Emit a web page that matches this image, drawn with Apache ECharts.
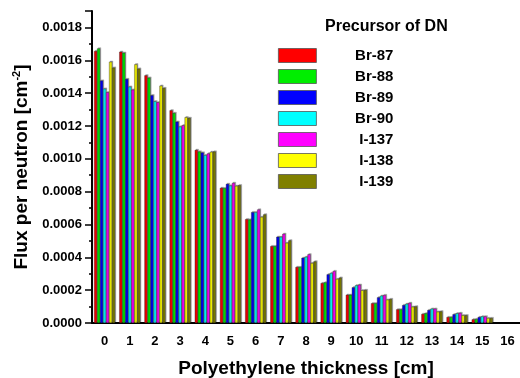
<!DOCTYPE html>
<html>
<head>
<meta charset="utf-8">
<script src="https://cdn.jsdelivr.net/npm/echarts@6/dist/echarts.min.js"></script>
<style>
  html, body { margin: 0; padding: 0; background: #fff; }
  #main { width: 520px; height: 378px; }
</style>
</head>
<body>
<div id="main"></div>
<script>
const thickness = ['0', '1', '2', '3', '4', '5', '6', '7', '8', '9', '10', '11', '12', '13', '14', '15', '16'];

const seriesNames = ['Br-87', 'Br-88', 'Br-89', 'Br-90', 'I-137', 'I-138', 'I-139'];
const colors = ['#ff0000', '#00ee00', '#0000ff', '#00ffff', '#ff00ff', '#ffff00', '#808000'];

// flux per neutron (cm = 0..15)
const br87 = [0.001656, 0.001652, 0.001508, 0.001295, 0.001054, 0.000823, 0.000632, 0.000468, 0.000341, 0.000243, 0.000172, 0.000120, 0.000083, 0.000055, 0.000036, 0.000022];
const br88 = [0.001672, 0.001646, 0.001494, 0.001279, 0.001044, 0.000821, 0.000630, 0.000468, 0.000341, 0.000247, 0.000172, 0.000120, 0.000083, 0.000059, 0.000036, 0.000024];
const br89 = [0.001476, 0.001486, 0.001387, 0.001226, 0.001038, 0.000847, 0.000675, 0.000525, 0.000397, 0.000296, 0.000217, 0.000156, 0.000109, 0.000079, 0.000053, 0.000036];
const br90 = [0.001427, 0.001439, 0.001350, 0.001196, 0.001022, 0.000837, 0.000675, 0.000525, 0.000403, 0.000304, 0.000229, 0.000166, 0.000117, 0.000087, 0.000059, 0.000040];
const i137 = [0.001405, 0.001421, 0.001344, 0.001204, 0.001032, 0.000853, 0.000691, 0.000543, 0.000418, 0.000316, 0.000233, 0.000170, 0.000122, 0.000087, 0.000061, 0.000040];
const i138 = [0.001591, 0.001575, 0.001445, 0.001253, 0.001042, 0.000835, 0.000646, 0.000488, 0.000365, 0.000268, 0.000199, 0.000142, 0.000099, 0.000069, 0.000047, 0.000030];
const i139 = [0.001555, 0.001549, 0.001431, 0.001249, 0.001044, 0.000839, 0.000661, 0.000503, 0.000375, 0.000276, 0.000201, 0.000146, 0.000101, 0.000071, 0.000047, 0.000030];

const allData = [br87, br88, br89, br90, i137, i138, i139];

const font = 'Liberation Sans, Arial, sans-serif';

let myChart = echarts.init(document.getElementById('main'));

myChart.setOption({
  animation: false,
  textStyle: { fontFamily: font },
  grid: { left: 92, right: 0, top: 11, bottom: 55, containLabel: false, outerBoundsMode: 'none' },
  title: {
    text: 'Precursor of DN',
    left: 325,
    top: 19,
    padding: 0,
    textStyle: { fontSize: 16, fontWeight: 'bold', color: '#000', fontFamily: font }
  },
  legend: {
    orient: 'vertical',
    left: 278,
    top: 48,
    padding: 0,
    itemWidth: 38,
    itemHeight: 14,
    itemGap: 6,
    icon: 'rect',
    itemStyle: { borderColor: '#555', borderWidth: 0.8 },
    formatter: '{a|{name}}',
    textStyle: {
      fontFamily: font,
      rich: { a: { width: 72, align: 'right', fontSize: 15, lineHeight: 15, fontWeight: 'bold', color: '#000' } }
    },
    data: seriesNames
  },
  xAxis: [
    {
      type: 'category',
      data: thickness,
      name: 'Polyethylene thickness [cm]',
      nameLocation: 'middle',
      nameGap: 36,
      nameTextStyle: { fontSize: 19, fontWeight: 'bold', color: '#000', fontFamily: font },
      axisLine: { lineStyle: { color: '#000', width: 2 } },
      axisTick: { alignWithLabel: true, length: 6, lineStyle: { color: '#000', width: 1.5 } },
      axisLabel: { fontSize: 13, fontWeight: 'bold', color: '#000', margin: 12, interval: 0 },
      splitLine: { show: false }
    },
    {
      type: 'category',
      data: thickness,
      position: 'bottom',
      axisLine: { show: false },
      axisTick: { length: 3, interval: 0, lineStyle: { color: '#000', width: 1.5 } },
      axisLabel: { show: false },
      splitLine: { show: false }
    }
  ],
  yAxis: {
    type: 'value',
    min: 0,
    max: 0.0019,
    interval: 0.0002,
    name: 'Flux per neutron [cm{sup|-2}]',
    nameLocation: 'middle',
    nameGap: 57,
    nameTextStyle: {
      fontSize: 19, fontWeight: 'bold', color: '#000', fontFamily: font,
      rich: { sup: { fontSize: 11, fontWeight: 'bold', color: '#000', verticalAlign: 'top', padding: [0, 0, 10, 0] } }
    },
    axisLine: { show: true, lineStyle: { color: '#000', width: 2 } },
    axisTick: { show: true, length: 7, lineStyle: { color: '#000', width: 1.5 } },
    minorTick: { show: true, splitNumber: 2, length: 3, lineStyle: { color: '#000', width: 1.5 } },
    axisLabel: {
      fontSize: 13, fontWeight: 'bold', color: '#000', margin: 10, showMaxLabel: false,
      formatter: v => v.toFixed(4)
    },
    splitLine: { show: false }
  },
  series: seriesNames.map((name, i) => ({
    name: name,
    type: 'bar',
    xAxisIndex: 0,
    data: allData[i],
    barWidth: 3,
    barGap: '0%',
    itemStyle: {
      color: colors[i],
      borderColor: '#222',
      borderWidth: 0.4,
      shadowColor: 'rgba(0,0,0,0.35)',
      shadowOffsetX: 1,
      shadowOffsetY: -1
    }
  }))
});

window.onresize = function () {
  myChart.resize();
};
</script>
</body>
</html>
